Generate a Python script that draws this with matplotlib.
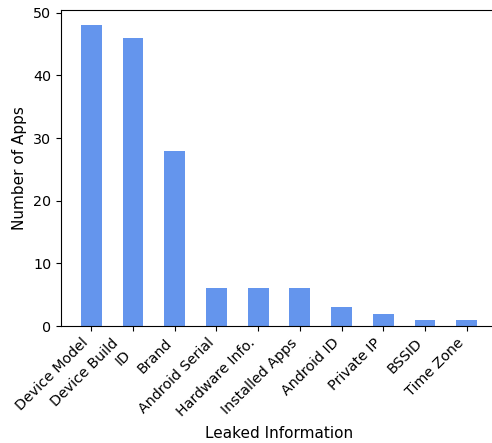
import matplotlib
matplotlib.use("Agg")
import matplotlib.pyplot as plt

categories = ["Device Model", "Device Build\nID", "Brand", "Android Serial", "Hardware Info.",
              "Installed Apps", "Android ID", "Private IP", "BSSID", "Time Zone"]
counts = [48, 46, 28, 6, 6, 6, 3, 2, 1, 1]

fig = plt.figure(figsize=(4.92, 4.43), dpi=100)
# axes extend slightly past the right edge (reference appears cropped there)
ax = fig.add_axes([0.124, 0.264, 0.886, 0.713])
x = list(range(len(categories)))
ax.bar(x, counts, width=0.5, color="#6495ED")
ax.set_xticks(x)
ax.set_xticklabels(categories, rotation=45, ha="right", fontsize=10.3)
ax.tick_params(axis="y", labelsize=10.3)
ax.set_ylabel("Number of Apps", fontsize=11)
ax.set_xlabel("Leaked Information", fontsize=11)
fig.savefig("out.png", dpi=100)
